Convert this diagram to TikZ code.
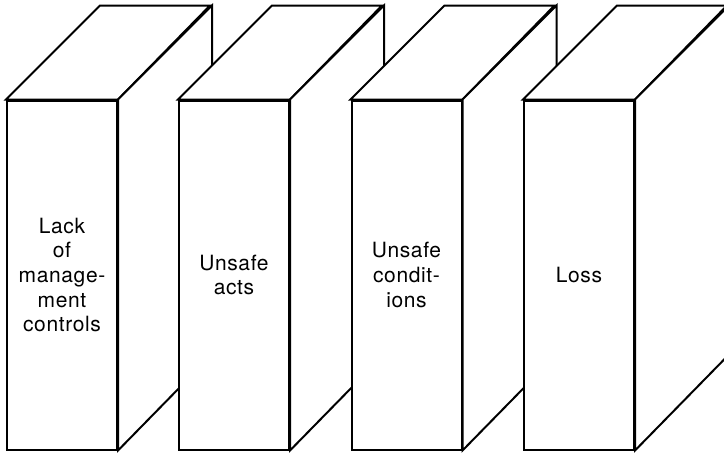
\documentclass[tikz,border=0pt]{standalone}
\usepackage{fontspec}
\setmainfont[LetterSpace=3]{TeX Gyre Heros}
\begin{document}
\begin{tikzpicture}[x=1pt,y=-1pt,
  face/.style={draw=black,fill=white,line width=2pt},
  frontface/.style={face,rectangle,minimum width=110pt,minimum height=349pt,inner sep=0pt,align=center,
    font=\fontsize{21}{24.7}\selectfont}]
\useasboundingbox (0,0) rectangle (724,453);
\clip (0,0) rectangle (724,453);
\foreach \i/\x/\t in {1/62/{Lack\\of\\manage-\\ment\\controls},2/234/{Unsafe\\acts},3/406.5/{Unsafe\\condit-\\ions},4/579/{Loss}}{
  \node[frontface] (b\i) at (\x,275) {\t};
  \draw[face] (b\i.north west) -- ++(94,-94) -- ++(110,0) -- (b\i.north east) -- cycle;
  \draw[face] (b\i.north east) -- ++(94,-94) -- ++(0,349) -- (b\i.south east) -- cycle;
}
\end{tikzpicture}
\end{document}
